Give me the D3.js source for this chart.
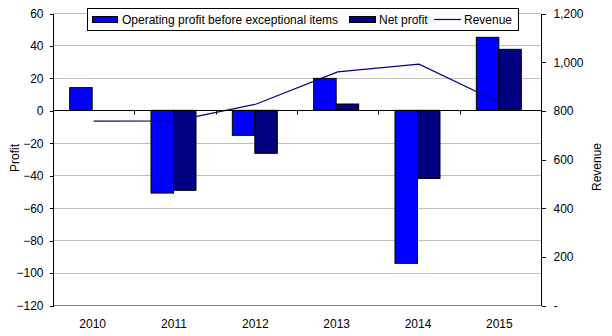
<!DOCTYPE html>
<html>
<head>
<meta charset="utf-8">
<script src="https://cdn.jsdelivr.net/npm/d3@7"></script>
<style>
  body { margin: 0; background: #fff; }
  svg { display: block; font-family: "Liberation Sans", Arial, sans-serif; }
  .axis text { font-size: 12px; fill: #000; }
  .axis path, .axis line { stroke: #000; shape-rendering: crispEdges; }
</style>
</head>
<body>
<div id="chart"></div>
<script>
var years = ['2010', '2011', '2012', '2013', '2014', '2015'];
var operatingProfit = [14, -51, -15.4, 19.7, -94.3, 45];
var netProfit = [0, -49.3, -26.5, 3.9, -42, 37.6];
var revenue = [756, 757, 826, 958, 990, 830];
var profitTicks = [-120, -100, -80, -60, -40, -20, 0, 20, 40, 60];
var revenueTicks = [0, 200, 400, 600, 800, 1000, 1200];

var width = 612, height = 336;
var plotLeft = 53, plotRight = 541, plotTop = 13, plotBottom = 305;

var svg = d3.select('#chart')
    .append('svg')
    .attr('width', width)
    .attr('height', height);

var x = d3.scaleBand()
    .domain(years)
    .range([plotLeft, plotRight]);

var yL = d3.scaleLinear().domain([-120, 60]).range([plotBottom, plotTop]);
var yR = d3.scaleLinear().domain([0, 1200]).range([plotBottom, plotTop]);

var barW = 22.5;

// gridlines
svg.append('g')
    .selectAll('line')
    .data(profitTicks.filter(function (d) { return d !== 0; }))
    .enter().append('line')
    .attr('x1', plotLeft).attr('x2', plotRight)
    .attr('y1', function (d) { return Math.round(yL(d)) + 0.5; })
    .attr('y2', function (d) { return Math.round(yL(d)) + 0.5; })
    .attr('stroke', function (d) { return d === -120 ? '#808080' : '#c0c0c0'; })
    .attr('stroke-width', 1);

// bars
var groups = svg.append('g')
    .selectAll('g')
    .data(years)
    .enter().append('g');

groups.append('rect')
    .attr('x', function (d) { return x(d) + x.bandwidth() / 2 - barW - 1.5; })
    .attr('width', barW)
    .attr('y', function (d, i) { return yL(Math.max(0, operatingProfit[i])); })
    .attr('height', function (d, i) { return Math.abs(yL(operatingProfit[i]) - yL(0)); })
    .attr('fill', '#0000ff')
    .attr('stroke', '#000')
    .attr('stroke-width', 1);

groups.filter(function (d, i) { return netProfit[i] !== 0; })
    .append('rect')
    .attr('x', function (d) { return x(d) + x.bandwidth() / 2 - 1.5; })
    .attr('width', barW)
    .attr('y', function (d) { var i = years.indexOf(d); return yL(Math.max(0, netProfit[i])); })
    .attr('height', function (d) { var i = years.indexOf(d); return Math.abs(yL(netProfit[i]) - yL(0)); })
    .attr('fill', '#000080')
    .attr('stroke', '#000')
    .attr('stroke-width', 1);

// revenue line
var line = d3.line()
    .x(function (d, i) { return x(years[i]) + x.bandwidth() / 2; })
    .y(function (d) { return yR(d); });

svg.append('path')
    .datum(revenue)
    .attr('d', line)
    .attr('fill', 'none')
    .attr('stroke', '#000080')
    .attr('stroke-width', 1.2);

// zero line with category ticks
var y0 = Math.round(yL(0)) + 0.5;
svg.append('line')
    .attr('x1', plotLeft).attr('x2', plotRight)
    .attr('y1', y0).attr('y2', y0)
    .attr('stroke', '#000');

svg.append('g')
    .selectAll('line')
    .data(years.slice(1))
    .enter().append('line')
    .attr('x1', function (d) { return Math.round(x(d)) + 0.5; })
    .attr('x2', function (d) { return Math.round(x(d)) + 0.5; })
    .attr('y1', y0).attr('y2', y0 + 4)
    .attr('stroke', '#000');

// axes
svg.append('g')
    .attr('class', 'axis')
    .attr('transform', 'translate(' + (plotLeft + 0.5) + ',0.5)')
    .call(d3.axisLeft(yL).tickValues(profitTicks).tickSize(4).tickSizeOuter(0).tickPadding(6));

svg.append('g')
    .attr('class', 'axis')
    .attr('transform', 'translate(' + (plotRight + 0.5) + ',0.5)')
    .call(d3.axisRight(yR).tickValues(revenueTicks).tickSize(4).tickSizeOuter(0).tickPadding(8)
        .tickFormat(function (d) { return d === 0 ? '-' : d3.format(',')(d); }));

svg.selectAll('.axis .domain').attr('d', function () {
    return 'M0,' + plotTop + 'V' + plotBottom;
});

// category labels
svg.append('g')
    .selectAll('text')
    .data(years)
    .enter().append('text')
    .attr('x', function (d) { return x(d) + x.bandwidth() / 2 - 1; })
    .attr('y', 328)
    .attr('text-anchor', 'middle')
    .style('font-size', '12px')
    .text(function (d) { return d; });

// axis titles
svg.append('text')
    .attr('transform', 'translate(19,158) rotate(-90)')
    .attr('text-anchor', 'middle')
    .style('font-size', '12px')
    .text('Profit');

svg.append('text')
    .attr('transform', 'translate(601,167) rotate(-90)')
    .attr('text-anchor', 'middle')
    .style('font-size', '12px')
    .text('Revenue');

// legend
var legend = svg.append('g');
legend.append('rect')
    .attr('x', 87.5).attr('y', 8.5)
    .attr('width', 431).attr('height', 22)
    .attr('fill', '#fff')
    .attr('stroke', '#000');

legend.append('rect')
    .attr('x', 92.5).attr('y', 16.5).attr('width', 25).attr('height', 6)
    .attr('fill', '#0000ff').attr('stroke', '#000');
legend.append('text')
    .attr('x', 122).attr('y', 24)
    .style('font-size', '12px')
    .text('Operating profit before exceptional items');

legend.append('rect')
    .attr('x', 349.5).attr('y', 16.5).attr('width', 26).attr('height', 6)
    .attr('fill', '#000080').attr('stroke', '#000');
legend.append('text')
    .attr('x', 379).attr('y', 24)
    .style('font-size', '12px')
    .text('Net profit');

legend.append('line')
    .attr('x1', 434).attr('x2', 461)
    .attr('y1', 19.5).attr('y2', 19.5)
    .attr('stroke', '#000080').attr('stroke-width', 1.2);
legend.append('text')
    .attr('x', 464).attr('y', 24)
    .style('font-size', '12px')
    .text('Revenue');
</script>
</body>
</html>
